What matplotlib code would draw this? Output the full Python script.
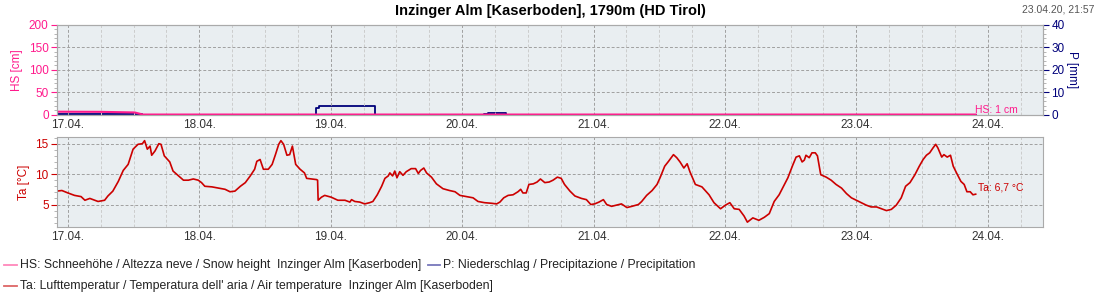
import matplotlib
matplotlib.use("Agg")
import numpy as np
import matplotlib.pyplot as plt
from matplotlib.lines import Line2D
from matplotlib.ticker import MultipleLocator

plt.rcParams['font.family'] = ['Liberation Sans', 'DejaVu Sans']

# hours since 17.04. 00:00
day_ticks = [0, 24, 48, 72, 96, 120, 144, 168]
day_labels = ["17.04.", "18.04.", "19.04.", "20.04.", "21.04.", "22.04.", "23.04.", "24.04."]

# snow height [cm]
hs_hours = [-2.0, 6.0, 12.2, 13.7, 165.8]
hs_vals = [7.3, 7.0, 5.6, 1.0, 1.0]

# precipitation [mm], step values
p_hours = [-2.0, 13.5, 32.5, 35.5, 45.3, 45.8, 56.1, 76.0, 76.8, 80.1, 105.0, 112.0, 150.0, 160.0, 165.8]
p_vals = [0.4, 0.0, 0.2, 0.0, 3.0, 3.8, 0.0, 0.5, 0.9, 0.0, 0.2, 0.0, 0.2, 0.0, 0.0]

# air temperature [°C]
ta_hours = [-2.1, -1.1, 0, 1.2, 2.4, 3.1, 4.0, 4.6, 5.5, 6.7, 7.3, 8.2, 9.2, 10.1, 11.0, 11.9,
            12.8, 13.6, 14.0, 14.5, 15.0, 15.3, 15.9, 16.6, 17.0, 17.6, 18.6, 19.2, 20.2, 21.1,
            22.0, 22.9, 23.8, 24.4, 25.0, 26.3, 27.5, 28.7, 29.6, 30.5, 31.5, 32.4, 33.3, 34.1,
            34.5, 35.1, 35.7, 36.6, 37.3, 37.9, 38.5, 38.9, 39.4, 40.0, 40.5, 41.0, 41.6, 42.4,
            43.2, 43.6, 44.5, 45.4, 45.6, 45.7, 46.3, 46.9, 48.1, 49.3, 50.6, 51.5, 51.8, 52.4,
            53.3, 54.2, 55.1, 55.7, 56.5, 57.3, 57.9, 58.5, 58.8, 59.3, 59.7, 60.1, 60.6, 61.2,
            61.8, 62.7, 63.5, 64.0, 64.4, 65.0, 65.5, 66.4, 67.3, 68.5, 69.7, 70.7, 71.6, 72.8,
            74.0, 74.9, 76.1, 77.4, 78.3, 78.9, 79.6, 80.4, 81.3, 82.2, 82.7, 83.1, 83.7, 84.2,
            85.0, 85.7, 86.3, 87.1, 87.9, 88.6, 89.4, 90.1, 90.7, 91.7, 92.6, 93.8, 94.7, 95.5,
            96.2, 97.0, 97.8, 98.4, 99.3, 100.2, 101.1, 102.1, 103.0, 104.2, 104.8, 105.7, 106.7,
            107.6, 108.2, 109.0, 109.7, 110.6, 111.2, 111.8, 112.5, 113.1, 113.6, 114.6, 115.8,
            117.1, 118.0, 119.2, 120.1, 120.9, 121.7, 122.6, 123.5, 124.1, 125.1, 126.2, 127.2,
            128.1, 129.0, 129.9, 130.7, 131.5, 132.4, 133.0, 133.6, 134.1, 134.5, 134.8, 135.4,
            135.9, 136.5, 136.9, 137.5, 138.5, 139.4, 140.3, 141.3, 142.2, 143.1, 144.0, 144.9,
            145.8, 146.7, 147.7, 148.6, 149.5, 150.4, 151.3, 152.2, 153.0, 153.8, 154.7, 155.5,
            156.2, 156.8, 157.4, 158.0, 158.5, 158.9, 159.6, 160.0, 160.6, 161.2, 161.7, 162.3,
            163.1, 163.7, 164.2, 164.8, 165.3, 165.8]
ta_vals = [7.2, 7.3, 6.9, 6.5, 6.3, 5.7, 6.0, 5.8, 5.5, 5.7, 6.4, 7.2, 8.8, 10.6, 11.6, 14.1,
           14.9, 15.0, 15.5, 14.1, 14.6, 13.1, 13.8, 15.0, 14.9, 13.0, 12.0, 10.5, 9.7, 9.0,
           9.0, 9.2, 9.0, 8.6, 8.0, 7.9, 7.7, 7.5, 7.1, 7.2, 8.0, 8.6, 9.7, 10.8,
           12.1, 12.4, 10.8, 10.8, 11.6, 13.2, 14.9, 15.5, 14.9, 13.1, 13.2, 14.6, 11.6, 10.8,
           10.2, 9.3, 9.2, 9.1, 9.0, 5.7, 6.2, 6.5, 6.2, 5.7, 5.7, 5.4, 5.8, 5.5,
           5.4, 5.1, 5.3, 5.5, 6.6, 8.0, 9.3, 9.7, 10.2, 9.7, 10.5, 9.4, 10.4, 9.8,
           10.4, 10.9, 10.9, 10.1, 10.6, 11.0, 10.2, 9.5, 8.4, 7.6, 7.3, 7.1, 6.5, 6.3,
           6.1, 5.5, 5.3, 5.2, 5.1, 5.4, 6.1, 6.5, 6.6, 7.1, 7.5, 6.9, 6.9, 8.3,
           8.4, 8.7, 9.2, 8.6, 8.7, 9.0, 9.5, 9.3, 8.3, 7.2, 6.4, 6.0, 5.8, 5.0,
           5.1, 5.4, 5.8, 5.0, 4.7, 4.9, 5.1, 4.5, 4.7, 5.0, 5.5, 6.5, 7.3,
           8.3, 9.5, 11.3, 12.1, 13.2, 12.7, 12.0, 11.0, 11.7, 10.4, 8.3, 7.9,
           6.6, 5.3, 4.3, 4.9, 5.3, 4.3, 4.2, 3.1, 2.1, 2.8, 2.4, 2.9,
           3.5, 5.5, 6.6, 8.0, 9.4, 11.5, 12.8, 13.0, 12.0, 12.3, 13.1, 12.7,
           13.5, 13.5, 13.0, 9.9, 9.5, 9.0, 8.3, 7.7, 6.8, 6.1, 5.7, 5.3,
           4.9, 4.6, 4.6, 4.3, 4.0, 4.2, 4.9, 6.1, 8.0, 8.6, 9.9, 11.3,
           12.4, 13.1, 13.5, 14.3, 14.9, 14.3, 12.8, 13.2, 12.8, 13.1, 11.3, 10.2,
           8.8, 8.3, 7.1, 7.1, 6.6, 6.7]

PINK = '#ff1a8c'
NAVY = '#00007a'
RED = '#cc0000'
BG = '#e9eef1'
GRID = '#a0a0a0'

fig = plt.figure(figsize=(11, 3), dpi=100)
ax_hs = fig.add_axes([0.0518, 0.6167, 0.8964, 0.30])
ax_ta = fig.add_axes([0.0518, 0.2433, 0.8964, 0.30])
ax_p = ax_hs.twinx()

ax_hs.set_zorder(ax_p.get_zorder() + 1)
ax_hs.patch.set_visible(False)
ax_p.patch.set_visible(True)
ax_p.patch.set_facecolor(BG)
ax_ta.set_facecolor(BG)


def style_x(ax):
    ax.set_xlim(-2.0, 178.1)
    ax.set_xticks(day_ticks)
    ax.set_xticklabels(day_labels)
    ax.xaxis.set_minor_locator(MultipleLocator(6))
    ax.tick_params(axis='x', which='both', length=0, labelsize=8.5, colors='#333333', pad=3)
    ax.grid(True, which='major', axis='both', color=GRID, linestyle=(0, (3, 2)), linewidth=0.7)
    ax.grid(True, which='minor', axis='x', color='#cccccc', linestyle=(0, (3, 2)), linewidth=0.7)
    for s in ax.spines.values():
        s.set_color('#aaaaaa')


# top panel: snow height + precipitation
ax_p.step(p_hours, p_vals, where='post', color=NAVY, lw=1.3)
ax_hs.plot(hs_hours, hs_vals, color=PINK, lw=1.5)
style_x(ax_hs)
ax_p.set_xlim(-2.0, 178.1)
ax_hs.set_ylim(0, 200)
ax_hs.set_yticks([0, 50, 100, 150, 200])
ax_hs.yaxis.set_minor_locator(MultipleLocator(10))
ax_hs.tick_params(axis='y', which='major', labelsize=8.5, colors=PINK, length=4, pad=2)
ax_hs.tick_params(axis='y', which='minor', colors='#aaaaaa', length=2)
ax_hs.set_ylabel("HS [cm]", color=PINK, fontsize=8.5, labelpad=4)
ax_p.set_ylim(0, 40)
ax_p.set_yticks([0, 10, 20, 30, 40])
ax_p.yaxis.set_minor_locator(MultipleLocator(2))
ax_p.tick_params(axis='y', which='major', labelsize=8.5, colors=NAVY, length=4, pad=2)
ax_p.tick_params(axis='y', which='minor', colors='#aaaaaa', length=2)
ax_p.set_ylabel("P [mm]", color=NAVY, fontsize=8.5, rotation=270, labelpad=10)
for s in ax_p.spines.values():
    s.set_color('#aaaaaa')
ax_hs.text(hs_hours[-1] - 0.2, hs_vals[-1] - 0.5, "HS: 1 cm", color=PINK, fontsize=7.5, va='bottom')

# bottom panel: air temperature
ax_ta.plot(ta_hours, ta_vals, color=RED, lw=1.2)
style_x(ax_ta)
ax_ta.set_ylim(1.3, 16.1)
ax_ta.set_yticks([5, 10, 15])
ax_ta.yaxis.set_minor_locator(MultipleLocator(1))
ax_ta.tick_params(axis='y', which='major', labelsize=8.5, colors=RED, length=4, pad=2)
ax_ta.tick_params(axis='y', which='minor', colors='#aaaaaa', length=2)
ax_ta.set_ylabel("Ta [°C]", color=RED, fontsize=8.5, labelpad=4)
ax_ta.text(ta_hours[-1] + 0.5, ta_vals[-1] + 1.1, "Ta: 6,7 °C", color=RED, fontsize=7.5, va='center')

# title and timestamp
fig.text(0.5, 0.963, "Inzinger Alm [Kaserboden], 1790m (HD Tirol)", ha='center', va='center',
         fontsize=10.5, fontweight='bold')
fig.text(0.995, 0.97, "23.04.20, 21:57", ha='right', va='center', fontsize=7.5, color='#555555')

# legend
legend_items = [
    (0.004, 0.117, '#ff88bb', "HS: Schneehöhe / Altezza neve / Snow height  Inzinger Alm [Kaserboden]"),
    (0.389, 0.117, '#7777bb', "P: Niederschlag / Precipitazione / Precipitation"),
    (0.004, 0.047, '#dd6666', "Ta: Lufttemperatur / Temperatura dell' aria / Air temperature  Inzinger Alm [Kaserboden]"),
]
for x0, y0, col, txt in legend_items:
    fig.add_artist(Line2D([x0, x0 + 0.011], [y0, y0], color=col, lw=1.3, transform=fig.transFigure))
    fig.text(x0 + 0.014, y0, txt, ha='left', va='center', fontsize=8.8, color='#222222')

fig.savefig("out.png", dpi=100)
